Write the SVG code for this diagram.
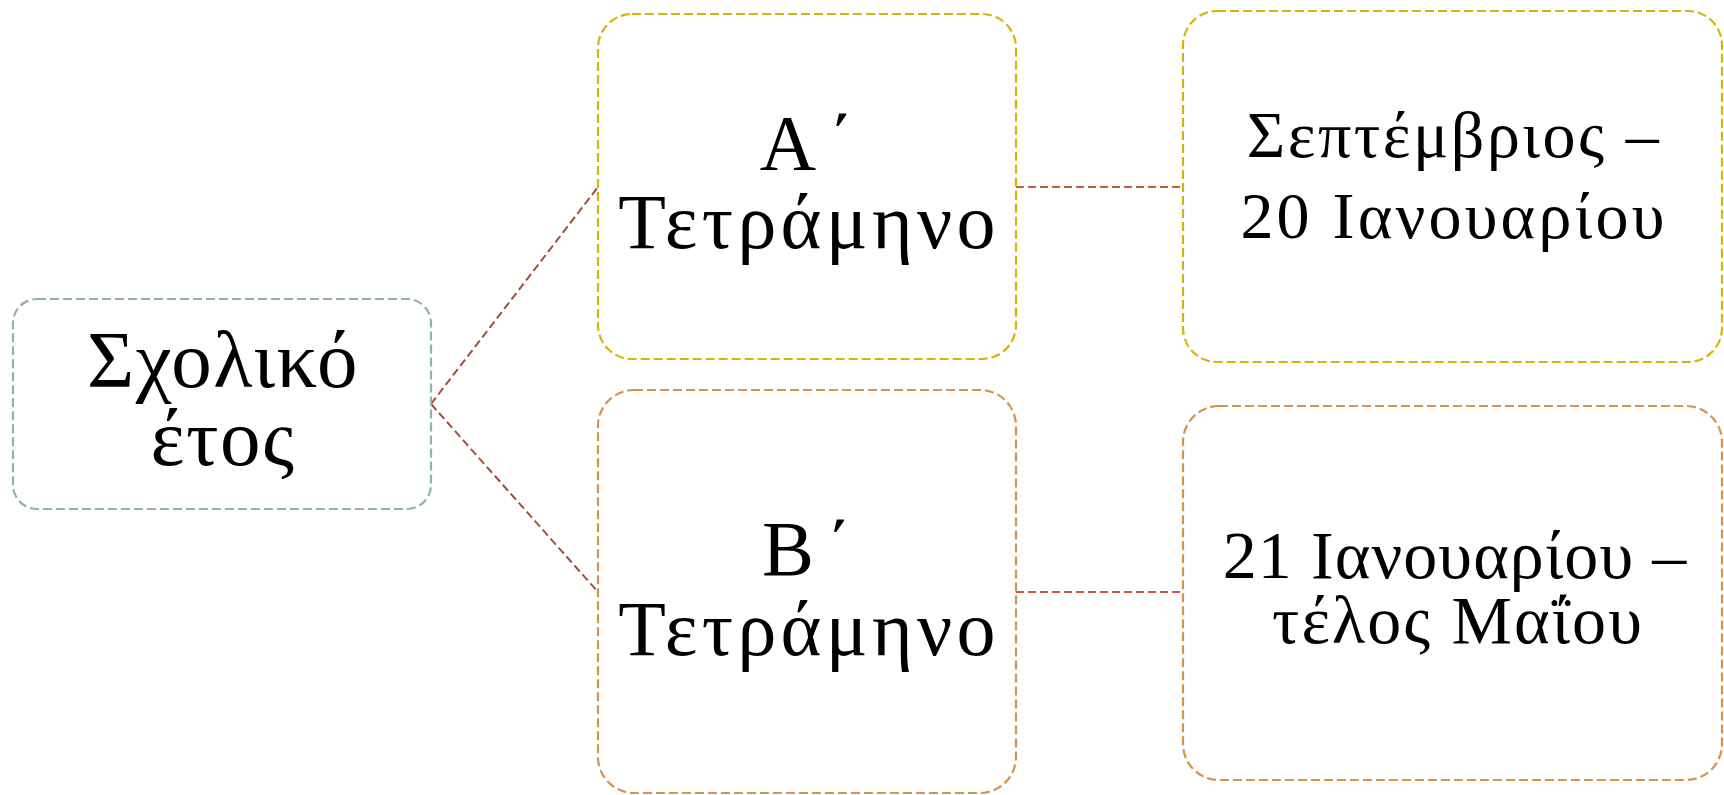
<svg xmlns="http://www.w3.org/2000/svg" width="1724" height="795" viewBox="0 0 1724 795">
<style>
.box{fill:#ffffff;stroke-width:2.2;stroke-dasharray:9 4}
.teal{stroke:#8fb2b5}
.gold{stroke:#d4b50a}
.orange{stroke:#d8934a}
.t{font-family:"Liberation Serif","DejaVu Serif",serif;fill:#000;text-anchor:middle}
.conn{fill:none;stroke-width:2;stroke-dasharray:8 4}
</style>
<rect width="1724" height="795" fill="#ffffff"/>
<g id="connectors">
<path class="conn" stroke="#a64d3c" d="M431,404 L598,187"/>
<path class="conn" stroke="#a64d3c" d="M431,404 L598,592"/>
<path class="conn" stroke="#c45a44" d="M1016,187 L1183,187"/>
<path class="conn" stroke="#c45a44" d="M1016,592 L1183,592"/>
</g>
<g id="node-year">
<rect class="box teal" x="13" y="299" width="418" height="210" rx="24"/>
<text class="t" font-size="81" letter-spacing="1.5" x="223" y="387">Σχολικό</text>
<text class="t" font-size="81" letter-spacing="1.5" x="223" y="465">έτος</text>
</g>
<g id="node-a">
<rect class="box gold" x="598" y="14" width="418" height="345" rx="34"/>
<text class="t" font-size="78" letter-spacing="12" x="813" y="169">Α΄</text>
<text class="t" font-size="78" letter-spacing="4.3" x="809" y="248">Τετράμηνο</text>
</g>
<g id="node-b">
<rect class="box orange" x="598" y="390" width="418" height="403" rx="36"/>
<text class="t" font-size="78" letter-spacing="12" x="813" y="575">Β΄</text>
<text class="t" font-size="78" letter-spacing="4.3" x="809" y="655">Τετράμηνο</text>
</g>
<g id="node-a-dates">
<rect class="box gold" x="1183" y="11" width="539" height="351" rx="34"/>
<text class="t" font-size="66" letter-spacing="2.5" x="1454" y="157">Σεπτέμβριος –</text>
<text class="t" font-size="66" letter-spacing="3.2" x="1454" y="238">20 Ιανουαρίου</text>
</g>
<g id="node-b-dates">
<rect class="box orange" x="1183" y="406" width="539" height="374" rx="36"/>
<text class="t" font-size="68" letter-spacing="1.1" x="1455" y="578">21 Ιανουαρίου –</text>
<text class="t" font-size="68" letter-spacing="2.1" x="1458" y="643">τέλος Μαΐου</text>
</g>
</svg>
